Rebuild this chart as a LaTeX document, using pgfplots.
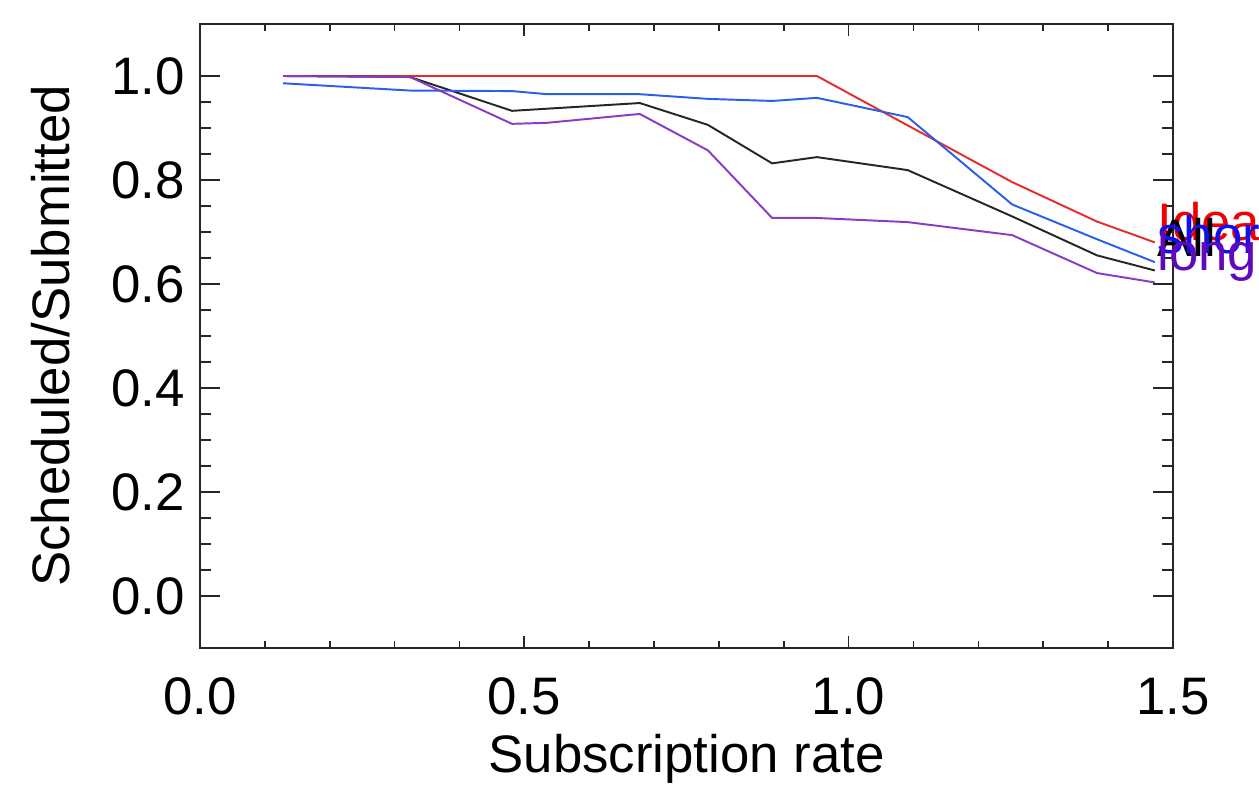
\documentclass[border=0pt]{standalone}
\usepackage{fontspec}
\setmainfont{Liberation Sans}
\usepackage{pgfplots}
\pgfplotsset{compat=1.18}
\definecolor{lred}{RGB}{228,45,45}
\definecolor{lblue}{RGB}{40,95,235}
\definecolor{lpurp}{RGB}{135,60,195}
\definecolor{tred}{RGB}{240,0,0}
\definecolor{tblue}{RGB}{15,15,240}
\definecolor{tpurp}{RGB}{95,10,190}
\begin{document}
\begin{tikzpicture}
\path[use as bounding box] (-72pt,-53.28pt) rectangle (381.24pt,233.28pt);
\begin{axis}[
  at={(0,0)}, anchor=south west,
  scale only axis, width=350.28pt, height=224.64pt,
  xmin=0, xmax=1.5, ymin=-0.1, ymax=1.1,
  xtick={0,0.5,1,1.5}, xticklabels={0.0,0.5,1.0,1.5},
  ytick={0,0.2,0.4,0.6,0.8,1.0}, yticklabels={0.0,0.2,0.4,0.6,0.8,1.0},
  minor x tick num=4, minor y tick num=3,
  tick align=inside,
  axis line style={line width=0.75pt, black!85},
  xtick style={/pgfplots/major tick length=4.3pt, line width=0.6pt, black!85},
  minor x tick style={/pgfplots/minor tick length=2.5pt, line width=0.6pt, black!85},
  ytick style={/pgfplots/major tick length=7.2pt, line width=0.6pt, black!85},
  minor y tick style={/pgfplots/minor tick length=4pt, line width=0.6pt, black!85},
  font=\fontsize{19}{22}\selectfont,
  /pgf/number format/assume math mode=true,
  xticklabel style={anchor=base, inner sep=0pt, yshift=-24.1pt, font=\fontsize{19}{22}\selectfont},
  yticklabel style={anchor=east, inner sep=0pt, xshift=-5.4pt, font=\fontsize{19}{22}\selectfont},
  every axis x label/.style={at={(axis description cs:0.5,-0.2003)}, anchor=base, font=\fontsize{19}{22}\selectfont},
  every axis y label/.style={at={(axis description cs:-0.1336,0.5)}, anchor=base, rotate=90, font=\fontsize{19}{22}\selectfont},
  xlabel={Subscription rate},
  ylabel={Scheduled/Submitted},
  clip=false,
]
\addplot[lred, line width=0.7pt] coordinates {
 (0.128,1.0) (0.324,1.0) (0.481,1.0) (0.535,1.0) (0.678,1.0) (0.783,1.0) (0.882,1.0) (0.951,1.0)
 (1.091,0.905) (1.252,0.796) (1.383,0.72) (1.472,0.68)};
\addplot[black!85, line width=0.7pt] coordinates {
 (0.128,1.0) (0.324,0.998) (0.481,0.933) (0.678,0.948) (0.783,0.906) (0.882,0.832) (0.951,0.844)
 (1.091,0.819) (1.252,0.73) (1.383,0.655) (1.472,0.626)};
\addplot[lblue, line width=0.7pt] coordinates {
 (0.128,0.986) (0.324,0.972) (0.481,0.971) (0.535,0.965) (0.678,0.965) (0.783,0.956) (0.882,0.952) (0.951,0.958)
 (1.091,0.921) (1.252,0.753) (1.383,0.686) (1.472,0.642)};
\addplot[lpurp, line width=0.7pt] coordinates {
 (0.128,1.0) (0.324,0.998) (0.481,0.908) (0.535,0.910) (0.678,0.927) (0.783,0.857) (0.882,0.727) (0.951,0.727)
 (1.091,0.719) (1.252,0.694) (1.383,0.621) (1.472,0.603)};
\node[anchor=base west, inner sep=0pt, text=tred] at (axis cs:1.475,0.684) {Ideal};
\node[anchor=base west, inner sep=0pt, text=black] at (axis cs:1.475,0.653) {All};
\node[anchor=base west, inner sep=0pt, text=tblue] at (axis cs:1.475,0.659) {short};
\node[anchor=base west, inner sep=0pt, text=tpurp] at (axis cs:1.475,0.626) {long};
\end{axis}
\end{tikzpicture}
\end{document}
